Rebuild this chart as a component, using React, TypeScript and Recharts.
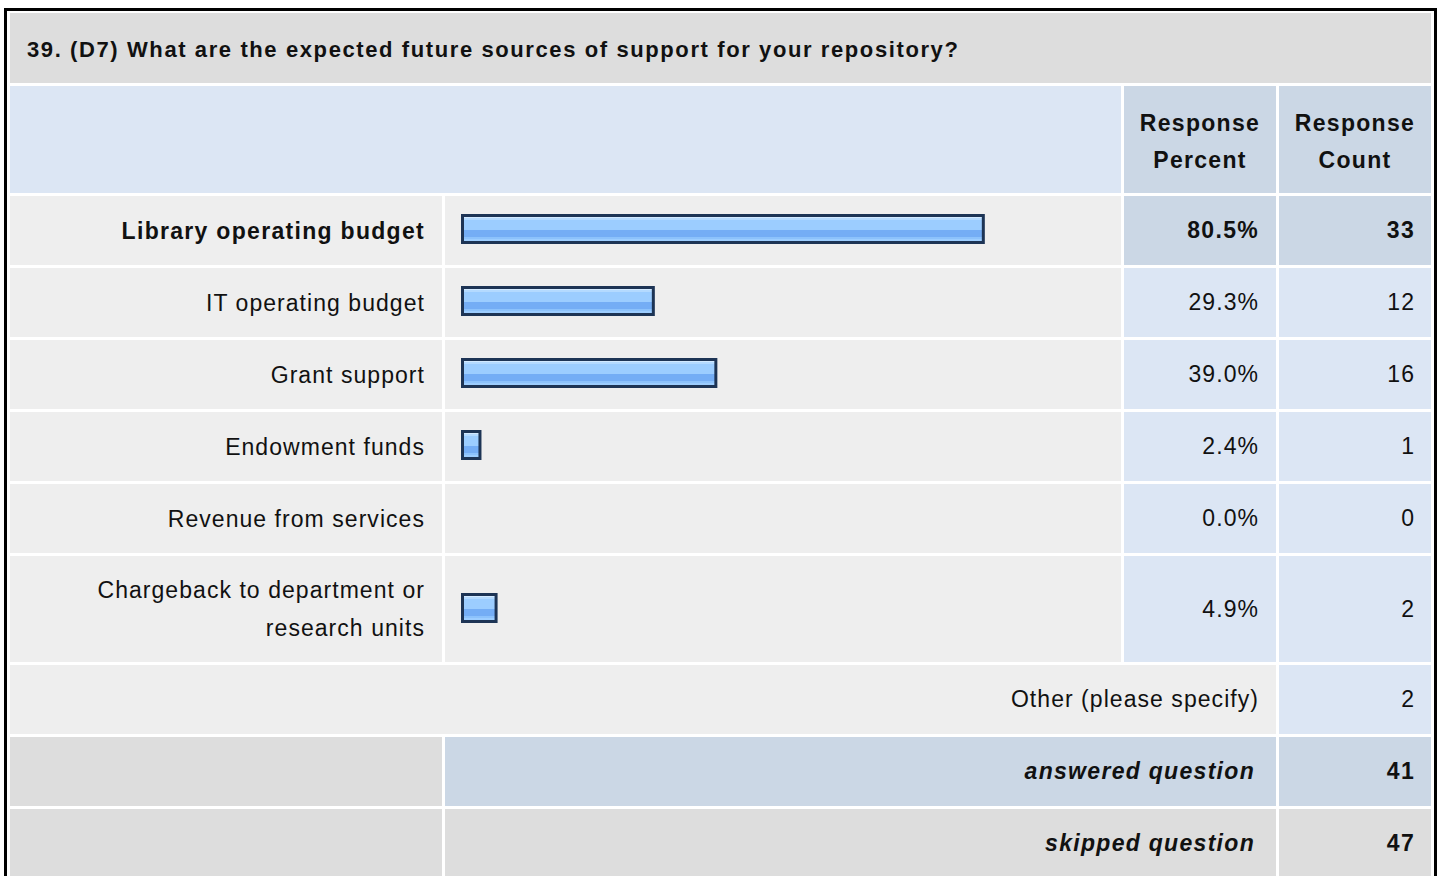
import { Bar, BarChart, XAxis, YAxis } from "recharts";

const question = "39. (D7) What are the expected future sources of support for your repository?";
const categories = [
  "Library operating budget",
  "IT operating budget",
  "Grant support",
  "Endowment funds",
  "Revenue from services",
  "Chargeback to department or research units",
];
const percents = [80.5, 29.3, 39.0, 2.4, 0.0, 4.9];
const counts = [33, 12, 16, 1, 0, 2];
const otherLabel = "Other (please specify)";
const otherCount = 2;
const answered = 41;
const skipped = 47;

const FONT = '"Liberation Sans", Arial, Helvetica, sans-serif';

function BarShape(props: any) {
  const { x, y, width, height, value } = props;
  if (!value) return null;
  const w = width + 5;
  return (
    <g>
      <rect x={x + 1.5} y={y + 1.5} width={w - 3} height={height - 3} fill="url(#barGrad)" />
      <rect x={x + 1.5} y={y + 1.5} width={w - 3} height={height - 3} fill="none" stroke="#1d3455" strokeWidth={3} />
    </g>
  );
}

function RowBar({ value, name, height }: { value: number; name: string; height: number }) {
  const data = [{ name, value }];
  return (
    <BarChart
      width={676}
      height={height}
      data={data}
      layout="vertical"
      margin={{ top: 0, right: 15.5, bottom: 3, left: 16 }}
    >
      <defs>
        <linearGradient id="barGrad" x1="0" y1="0" x2="0" y2="1">
          <stop offset="0%" stopColor="#d2e9ff" />
          <stop offset="8%" stopColor="#d2e9ff" />
          <stop offset="8%" stopColor="#b4daff" />
          <stop offset="16%" stopColor="#b4daff" />
          <stop offset="16%" stopColor="#9ccdff" />
          <stop offset="55%" stopColor="#9ccdff" />
          <stop offset="55%" stopColor="#74adf5" />
          <stop offset="79%" stopColor="#74adf5" />
          <stop offset="79%" stopColor="#8cc2fc" />
          <stop offset="86%" stopColor="#8cc2fc" />
          <stop offset="86%" stopColor="#9ccdff" />
          <stop offset="100%" stopColor="#9ccdff" />
        </linearGradient>
      </defs>
      <XAxis type="number" domain={[0, 100]} hide />
      <YAxis type="category" dataKey="name" hide />
      <Bar dataKey="value" barSize={30} isAnimationActive={false} shape={(p: any) => <BarShape {...p} />} />
    </BarChart>
  );
}

const cell = (bg: string, bold = false, extra: any = {}): any => ({
  background: bg,
  display: "flex",
  alignItems: "center",
  justifyContent: "flex-end",
  paddingRight: 17,
  boxSizing: "border-box",
  fontFamily: FONT,
  fontSize: 23,
  fontWeight: bold ? "bold" : "normal",
  letterSpacing: bold ? "1.3px" : "1.05px",
  color: "#111",
  ...extra,
});

export default function App() {
  const maxIdx = percents.indexOf(Math.max(...percents));
  const rowHeights = categories.map((c) => (c.length > 30 ? 106 : 69));
  return (
    <div style={{ position: "fixed", inset: 0, overflow: "hidden", background: "#fff" }}>
      <div
        style={{
          position: "absolute",
          left: 4,
          top: 8,
          border: "3px solid #000",
          padding: "2px 3px 3px 3px",
          background: "#fff",
        }}
      >
        <div
          style={{
            display: "grid",
            gridTemplateColumns: "432px 676px 152px 152px",
            gridTemplateRows: ["70px", "107px", ...rowHeights.map((h) => `${h}px`), "69px", "69px", "69px"].join(" "),
            columnGap: 3,
            rowGap: 3,
            width: 1421,
          }}
        >
          <div
            style={cell("#dddddd", true, {
              gridColumn: "1 / span 4",
              justifyContent: "flex-start",
              paddingLeft: 17,
              paddingTop: 4,
              fontSize: 22,
              letterSpacing: "1.6px",
            })}
          >
            {question}
          </div>
          <div style={cell("#dce6f4", false, { gridColumn: "1 / span 2" })} />
          <div style={cell("#cbd7e5", true, { justifyContent: "center", textAlign: "center", lineHeight: "37px", paddingRight: 0, paddingTop: 4 })}>
            Response
            <br />
            Percent
          </div>
          <div style={cell("#cbd7e5", true, { justifyContent: "center", textAlign: "center", lineHeight: "37px", paddingRight: 0, paddingTop: 4 })}>
            Response
            <br />
            Count
          </div>
          {categories.map((c, i) => {
            const hi = i === maxIdx;
            const bg = hi ? "#cbd7e5" : "#dce6f4";
            return [
              <div key={`l${i}`} style={cell("#eeeeee", hi, { textAlign: "right", paddingLeft: 60, lineHeight: "38px" })}>
                {c}
              </div>,
              <div key={`b${i}`} style={{ background: "#eeeeee" }}>
                <RowBar value={percents[i]} name={c} height={rowHeights[i]} />
              </div>,
              <div key={`p${i}`} style={cell(bg, hi)}>
                {percents[i].toFixed(1)}%
              </div>,
              <div key={`c${i}`} style={cell(bg, hi, { paddingRight: 16 })}>
                {counts[i]}
              </div>,
            ];
          })}
          <div style={cell("#eeeeee", false, { gridColumn: "1 / span 3" })}>{otherLabel}</div>
          <div style={cell("#dce6f4", false, { paddingRight: 16 })}>{otherCount}</div>
          <div style={cell("#dddddd")} />
          <div style={cell("#cbd7e5", true, { gridColumn: "2 / span 2", fontStyle: "italic", paddingRight: 21 })}>
            answered question
          </div>
          <div style={cell("#cbd7e5", true, { paddingRight: 16 })}>{answered}</div>
          <div style={cell("#dddddd")} />
          <div style={cell("#dddddd", true, { gridColumn: "2 / span 2", fontStyle: "italic", paddingRight: 21 })}>
            skipped question
          </div>
          <div style={cell("#dddddd", true, { paddingRight: 16 })}>{skipped}</div>
        </div>
      </div>
    </div>
  );
}
